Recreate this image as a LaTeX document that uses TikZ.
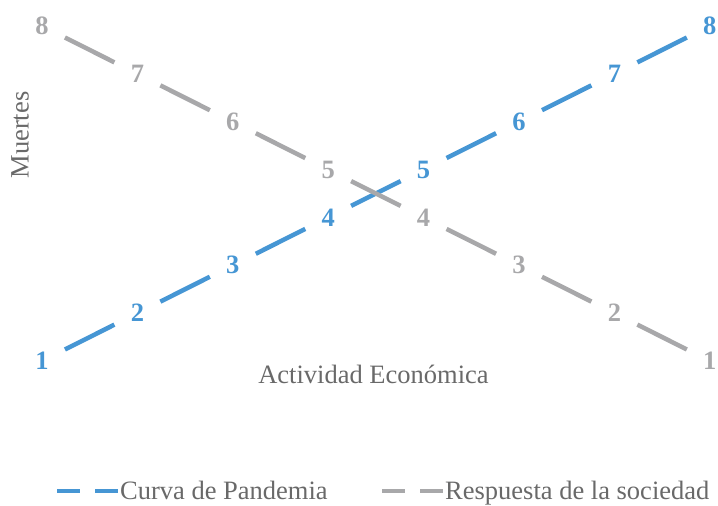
\documentclass[tikz,border=0pt]{standalone}
\usepackage{fontspec}
\setmainfont{Liberation Serif}
\usepackage{tikz}
\usepackage{xcolor}
\definecolor{pandemia}{RGB}{70,150,212}
\definecolor{respuesta}{RGB}{168,168,170}
\definecolor{titulo}{RGB}{105,105,105}
\tikzstyle{dato} = [circle, inner sep=0pt, minimum size=51pt, font=\fontsize{26.5}{30}\selectfont\bfseries]
\tikzstyle{serie} = [line width=4.5pt]
\tikzstyle{leyenda} = [line width=4pt, dash pattern=on 23pt off 15pt]
\tikzstyle{rotulo} = [inner sep=0pt, text=titulo, font=\fontsize{26.5}{30}\selectfont]

\begin{document}
\begin{tikzpicture}[x=1pt,y=-1pt]
  \useasboundingbox (0,0) rectangle (718,506);
  % curva de pandemia
  \node[dato,text=pandemia] (C_1) at (42,361) {1};
  \node[dato,text=pandemia] (C_2) at (137.4,313.1) {2};
  \node[dato,text=pandemia] (C_3) at (232.8,265.3) {3};
  \node[dato,text=pandemia] (C_4) at (328.2,217.4) {4};
  \node[dato,text=pandemia] (C_5) at (423.6,169.6) {5};
  \node[dato,text=pandemia] (C_6) at (519,121.7) {6};
  \node[dato,text=pandemia] (C_7) at (614.4,73.9) {7};
  \node[dato,text=pandemia] (C_8) at (709.8,26) {8};
  % respuesta de la sociedad
  \node[dato,text=respuesta] (R_1) at (709.8,361) {1};
  \node[dato,text=respuesta] (R_2) at (614.4,313.1) {2};
  \node[dato,text=respuesta] (R_3) at (519,265.3) {3};
  \node[dato,text=respuesta] (R_4) at (423.6,217.4) {4};
  \node[dato,text=respuesta] (R_5) at (328.2,169.6) {5};
  \node[dato,text=respuesta] (R_6) at (232.8,121.7) {6};
  \node[dato,text=respuesta] (R_7) at (137.4,73.9) {7};
  \node[dato,text=respuesta] (R_8) at (42,26) {8};

  \path[serie,draw=pandemia] (C_1) edge (C_2);
  \path[serie,draw=pandemia] (C_2) edge (C_3);
  \path[serie,draw=pandemia] (C_3) edge (C_4);
  \path[serie,draw=pandemia] (C_4) edge (C_5);
  \path[serie,draw=pandemia] (C_5) edge (C_6);
  \path[serie,draw=pandemia] (C_6) edge (C_7);
  \path[serie,draw=pandemia] (C_7) edge (C_8);
  \path[serie,draw=respuesta] (R_1) edge (R_2);
  \path[serie,draw=respuesta] (R_2) edge (R_3);
  \path[serie,draw=respuesta] (R_3) edge (R_4);
  \path[serie,draw=respuesta] (R_4) edge (R_5);
  \path[serie,draw=respuesta] (R_5) edge (R_6);
  \path[serie,draw=respuesta] (R_6) edge (R_7);
  \path[serie,draw=respuesta] (R_7) edge (R_8);

  % ejes
  \node[rotulo,rotate=90] (Muertes) at (20,135) {Muertes};
  \node[rotulo,anchor=base] (Actividad) at (373.5,383) {Actividad Económica};

  % leyenda
  \coordinate (LC_a) at (57,491);
  \coordinate (LC_b) at (118,491);
  \coordinate (LR_a) at (382,491);
  \coordinate (LR_b) at (443,491);
  \draw[leyenda,pandemia] (LC_a) -- (LC_b);
  \draw[leyenda,respuesta] (LR_a) -- (LR_b);
  \node[rotulo,anchor=base west] (L_curva) at (120,499.5) {Curva de Pandemia};
  \node[rotulo,anchor=base west] (L_resp) at (445,499.5) {Respuesta de la sociedad};
\end{tikzpicture}
\end{document}
